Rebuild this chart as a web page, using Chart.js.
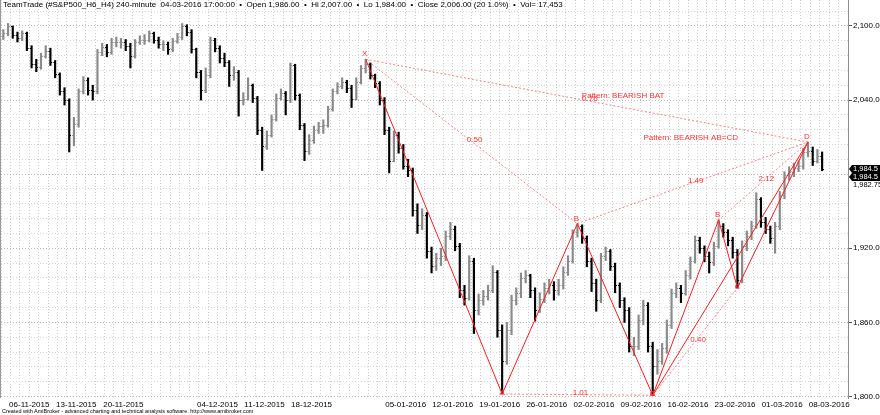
<!DOCTYPE html>
<html>
<head>
<meta charset="utf-8">
<script src="https://cdn.jsdelivr.net/npm/chart.js@4.4.1/dist/chart.umd.min.js"></script>
<style>
  body { margin: 0; background: #fff; }
  #wrap { position: relative; width: 880px; height: 415px; }
  #title { position: absolute; left: 3px; top: 0; font: 8px "Liberation Sans", Arial, sans-serif; line-height: 10px; white-space: pre; color: #000; }
  #foot { position: absolute; left: 2px; top: 408px; font: 5.5px "Liberation Sans", Arial, sans-serif; line-height: 7px; white-space: pre; color: #000; }
</style>
</head>
<body>
<div id="wrap">
  <canvas id="chart" width="880" height="415"></canvas>
  <div id="title">TeamTrade (#S&amp;P500_H6_H4) 240-minute  04-03-2016 17:00:00  •  Open 1,986.00  •  Hi 2,007.00  •  Lo 1,984.00  •  Close 2,006.00 (20 1.0%)  •  Vol= 17,453</div>
  <div id="foot">Created with AmiBroker - advanced charting and technical analysis software. http://www.amibroker.com</div>
</div>
<script>
// trading days shown on the time axis (two 4h bars drawn per day)
const novDays = [3,4,5,6,9,10,11,12,13,16,17,18,19,20,23,24,25,26,27,30];
const decDays = [1,2,3,4,7,8,9,10,11,14,15,16,17,18,21,22,23,24,28,29,30,31];
const janDays = [4,5,6,7,8,11,12,13,14,15,18,19,20,21,22,25,26,27,28,29];
const febDays = [1,2,3,4,5,8,9,10,11,12,15,16,17,18,19,22,23,24,25,26,29];
const marDays = [1,2,3,4,7,8,9];

const weekLabels = ['06-11-2015','13-11-2015','20-11-2015','04-12-2015','11-12-2015','18-12-2015',
  '05-01-2016','12-01-2016','19-01-2016','26-01-2016','02-02-2016','09-02-2016','16-02-2016',
  '23-02-2016','01-03-2016','08-03-2016'];

const priceLabels = [1800, 1860, 1920, 2040, 2100];

// OHLC bars (open of each bar = previous close)
const firstOpen = 2092;
const closes = [
  2094,2100,2093,2090,2094,2082,2069,2067,2076,2080,
  2071,2061,2047,2040,2012,2021,2047,2056,2048,2047,
  2079,2083,2079,2087,2087,2087,2084,2076,2087,2089,
  2089,2094,2089,2085,2085,2081,2088,2091,2100,2095,
  2081,2063,2048,2060,2089,2082,2074,2071,2060,2063,
  2040,2041,2052,2042,2016,2003,2012,2025,2042,2046,
  2040,2068,2044,2020,1999,2008,2016,2019,2020,2033,
  2047,2051,2055,2050,2041,2055,2066,2069,2060,2054,
  2040,2016,1991,2012,2001,1987,1983,1951,1939,1947,
  1918,1906,1912,1914,1930,1936,1922,1886,1880,1910,
  1870,1878,1881,1886,1901,1854,1829,1854,1878,1884,
  1896,1898,1886,1870,1879,1888,1890,1886,1890,1901,
  1910,1933,1938,1928,1910,1892,1878,1914,1918,1906,
  1890,1878,1870,1841,1841,1862,1874,1841,1825,1829,
  1839,1858,1884,1888,1884,1898,1910,1927,1920,1914,
  1909,1922,1938,1933,1927,1917,1894,1922,1930,1938,
  1960,1941,1936,1928,1938,1963,1979,1982,1985,1987,
  1998,1999,1991,1995,1984.5
];
const highs = [
  2097,2102,2100,2095,2096,2095,2084,2073,2078,2084,
  2082,2072,2062,2050,2041,2026,2049,2059,2058,2052,
  2081,2086,2085,2090,2091,2090,2089,2086,2089,2092,
  2093,2096,2095,2091,2088,2087,2090,2094,2102,2101,
  2097,2082,2064,2066,2091,2090,2084,2078,2072,2067,
  2064,2046,2058,2053,2043,2018,2015,2028,2045,2049,
  2047,2070,2069,2045,2021,2012,2019,2022,2024,2035,
  2049,2054,2058,2056,2052,2058,2068,2073,2070,2061,
  2055,2042,2018,2015,2014,2004,1992,1985,1956,1952,
  1949,1921,1916,1920,1934,1941,1938,1924,1890,1914,
  1912,1883,1886,1890,1906,1902,1858,1860,1882,1888,
  1900,1902,1899,1888,1884,1892,1895,1893,1895,1905,
  1914,1935,1940,1939,1930,1912,1895,1916,1921,1919,
  1908,1892,1880,1872,1848,1866,1878,1876,1844,1838,
  1843,1862,1887,1892,1890,1902,1913,1930,1929,1922,
  1917,1925,1943,1940,1935,1929,1919,1926,1934,1942,
  1965,1961,1945,1938,1941,1966,1982,1986,1989,1991,
  2001,2006,2002,2000,1998
];
const lows = [
  2089,2092,2090,2087,2088,2080,2066,2063,2065,2074,
  2068,2058,2044,2036,1998,2003,2018,2045,2044,2040,
  2045,2076,2075,2077,2083,2082,2080,2066,2074,2085,
  2085,2087,2086,2082,2080,2077,2079,2086,2089,2092,
  2078,2058,2040,2046,2058,2079,2070,2067,2051,2056,
  2027,2036,2040,2038,2012,1983,2000,2010,2023,2040,
  2028,2038,2040,2016,1991,1996,2005,2013,2013,2018,
  2031,2045,2049,2046,2034,2040,2053,2062,2057,2050,
  2036,2012,1981,1990,1997,1984,1978,1946,1932,1935,
  1912,1900,1902,1906,1910,1927,1918,1880,1874,1878,
  1851,1866,1874,1878,1884,1848,1802,1826,1850,1874,
  1880,1892,1880,1861,1868,1876,1883,1878,1882,1887,
  1898,1908,1929,1924,1905,1885,1869,1876,1910,1902,
  1884,1872,1860,1836,1833,1838,1858,1836,1801,1818,
  1826,1835,1855,1880,1876,1882,1895,1908,1916,1909,
  1900,1906,1920,1929,1922,1912,1888,1892,1918,1927,
  1936,1937,1932,1924,1916,1935,1960,1975,1978,1982,
  1984,1994,1987,1989,1982.75
];

// harmonic pattern pivots (bar index + price)
const batNames = ['X','A','B','C','D'];
const batBars = [77, 106, 122, 138, 171];
const batPrices = [2073, 1802, 1940, 1801, 2006];
const batRatios = [['X','B','0.50'], ['A','C','1.01'], ['B','D','1.49'], ['X','D','0.76']];

const abcdNames = ['A','B','C','D'];
const abcdBars = [138, 152, 156, 171];
const abcdPrices = [1801, 1943, 1888, 2006];
const abcdRatios = [['A','C','0.40'], ['B','D','2.12']];

const upColor = '#8a8a8a';
const downColor = '#000000';
const red = '#ff1a1a';
const pink = 'rgba(255,60,60,0.65)';
const FONT = '"Liberation Sans", Arial, sans-serif';

const monthDays = (list, suffix) => list.map(d => String(d).padStart(2, '0') + '-' + suffix);
const days = [
  ...monthDays(novDays, '11-2015'), ...monthDays(decDays, '12-2015'),
  ...monthDays(janDays, '01-2016'), ...monthDays(febDays, '02-2016'), ...monthDays(marDays, '03-2016')
];
const opens = closes.map((c, i) => i ? closes[i - 1] : firstOpen);

const pivot = (names, bars, prices, n) => {
  const k = names.indexOf(n);
  return { x: bars[k], y: prices[k] };
};
const solidPath = (names, bars, prices) => names.map((n) => pivot(names, bars, prices, n));

const lineSet = (data, color, dash) => ({
  type: 'line', data, borderColor: color, borderWidth: 1, borderDash: dash,
  pointRadius: 0, fill: false, tension: 0, order: 0
});

const datasets = [{
  type: 'bar',
  data: closes.map((c, i) => ({ x: i, y: [lows[i], highs[i]] })),
  backgroundColor: closes.map((c, i) => c < opens[i] ? downColor : upColor),
  barThickness: 1.5,
  order: 1
}];
batRatios.forEach(r => datasets.push(lineSet([pivot(batNames, batBars, batPrices, r[0]), pivot(batNames, batBars, batPrices, r[1])], pink, [2, 2])));
abcdRatios.forEach(r => datasets.push(lineSet([pivot(abcdNames, abcdBars, abcdPrices, r[0]), pivot(abcdNames, abcdBars, abcdPrices, r[1])], pink, [2, 2])));
datasets.push(lineSet(solidPath(batNames, batBars, batPrices), red, []));
datasets.push(lineSet(solidPath(abcdNames, abcdBars, abcdPrices), red, []));

// open / close ticks of the OHLC bars
const ohlcTicks = {
  id: 'ohlcTicks',
  afterDatasetDraw(chart, args) {
    if (args.index !== 0) return;
    const { ctx } = chart;
    const y = chart.scales.y;
    ctx.save();
    ctx.lineWidth = 1;
    args.meta.data.forEach((bar, i) => {
      ctx.strokeStyle = closes[i] < opens[i] ? downColor : upColor;
      const yo = Math.round(y.getPixelForValue(opens[i])) + 0.5;
      const yc = Math.round(y.getPixelForValue(closes[i])) + 0.5;
      ctx.beginPath();
      ctx.moveTo(bar.x - 1.8, yo); ctx.lineTo(bar.x, yo);
      ctx.moveTo(bar.x, yc); ctx.lineTo(bar.x + 1.8, yc);
      ctx.stroke();
    });
    ctx.restore();
  }
};

// pivot letters, ratios, pattern names, last price boxes
const annotations = {
  id: 'annotations',
  afterDraw(chart) {
    const { ctx, chartArea } = chart;
    const xs = chart.scales.x, ys = chart.scales.y;
    const px = p => ({ x: xs.getPixelForValue(p.x), y: ys.getPixelForValue(p.y) });
    ctx.save();
    // left frame line
    ctx.strokeStyle = '#9a9a9a';
    ctx.lineWidth = 1;
    ctx.beginPath();
    ctx.moveTo(chartArea.left - 0.5, 0); ctx.lineTo(chartArea.left - 0.5, chartArea.bottom);
    ctx.stroke();

    ctx.font = '8px ' + FONT;
    ctx.fillStyle = '#ff3030';
    ctx.textAlign = 'center';
    const drawn = [];
    const letters = (names, bars, prices) => names.forEach((n, k) => {
      const key = n + bars[k];
      if (drawn.includes(key)) return;
      drawn.push(key);
      const p = px({ x: bars[k], y: prices[k] });
      const high = k === names.length - 1 ? true : prices[k] > prices[k + 1];
      if (high) { ctx.textBaseline = 'bottom'; ctx.fillText(n, p.x - 1, p.y - 1); }
      else { ctx.textBaseline = 'middle'; ctx.fillText(n, p.x, p.y - 1); }
    });
    letters(batNames, batBars, batPrices);
    letters(abcdNames, abcdBars, abcdPrices);

    ctx.textBaseline = 'middle';
    const ratioText = (names, bars, prices, list) => list.forEach(r => {
      const a = px(pivot(names, bars, prices, r[0])), b = px(pivot(names, bars, prices, r[1]));
      ctx.fillText(r[2], (a.x + b.x) / 2 + 3, (a.y + b.y) / 2 - 2);
    });
    ratioText(batNames, batBars, batPrices, batRatios);
    ratioText(abcdNames, abcdBars, abcdPrices, abcdRatios);

    const X = px(pivot(batNames, batBars, batPrices, 'X'));
    const D = px(pivot(batNames, batBars, batPrices, 'D'));
    ctx.textAlign = 'left';
    ctx.fillText('Pattern: BEARISH BAT', (X.x + D.x) / 2 - 5, (X.y + D.y) / 2 - 5);
    ctx.textAlign = 'right';
    ctx.fillText('Pattern: BEARISH AB=CD', D.x - 70, D.y - 4);

    // last price tags on the price axis
    const last = closes[closes.length - 1];
    const yl = Math.round(ys.getPixelForValue(last));
    const lbl = last.toLocaleString('en-US', { minimumFractionDigits: 1 });
    ctx.fillStyle = '#000';
    [yl, yl + 8].forEach(yy => {
      ctx.beginPath();
      ctx.moveTo(chartArea.right + 1, yy);
      ctx.lineTo(chartArea.right + 4, yy - 4);
      ctx.lineTo(880, yy - 4);
      ctx.lineTo(880, yy + 4);
      ctx.lineTo(chartArea.right + 4, yy + 4);
      ctx.closePath();
      ctx.fill();
    });
    ctx.font = '7.5px ' + FONT;
    ctx.fillStyle = '#fff';
    ctx.textAlign = 'left';
    ctx.fillText(lbl, chartArea.right + 5, yl);
    ctx.fillText(lbl, chartArea.right + 5, yl + 8);
    ctx.fillStyle = '#000';
    ctx.fillText(lows[lows.length - 1].toLocaleString('en-US', { minimumFractionDigits: 2 }), chartArea.right + 5, yl + 16);
    ctx.restore();
  }
};

new Chart(document.getElementById('chart'), {
  type: 'bar',
  data: { datasets },
  plugins: [ohlcTicks, annotations],
  options: {
    responsive: false,
    animation: false,
    devicePixelRatio: 1,
    layout: { padding: { left: 1, right: 0, top: 0, bottom: 0 } },
    plugins: { legend: { display: false }, tooltip: { enabled: false } },
    scales: {
      x: {
        type: 'linear',
        min: -0.5,
        max: 179.5,
        offset: false,
        grid: { offset: false, drawTicks: false, color: '#cfcfcf' },
        border: { display: false, dash: [1, 2] },
        afterBuildTicks: axis => { axis.ticks = days.map((d, k) => ({ value: 2 * k - 0.5 })); },
        afterFit: axis => { axis.height = 17; axis.paddingLeft = 0; axis.paddingRight = 0; },
        ticks: {
          autoSkip: false, maxRotation: 0, padding: 2, color: '#000',
          font: { size: 8, family: FONT },
          callback: v => { const d = days[(v + 0.5) / 2]; return weekLabels.includes(d) ? d : ''; }
        }
      },
      y: {
        position: 'right',
        min: 1798.8,
        max: 2121,
        beginAtZero: false,
        grid: {
          color: c => c.tick && c.tick.value % 60 === 0 ? '#b8b8b8' : '#d6d6d6',
          tickLength: 4,
          tickColor: c => c.tick && priceLabels.includes(c.tick.value) ? '#555' : 'rgba(0,0,0,0)'
        },
        border: { display: true, color: '#8c8c8c', dash: [1, 2] },
        afterBuildTicks: axis => {
          const t = [];
          for (let v = 1800; v <= 2112; v += 12) t.push({ value: v });
          axis.ticks = t;
        },
        afterFit: axis => { axis.width = 32; axis.paddingTop = 0; axis.paddingBottom = 0; },
        ticks: {
          padding: 1, color: '#000',
          font: { size: 8, family: FONT },
          callback: v => priceLabels.includes(v) ? v.toLocaleString('en-US', { minimumFractionDigits: 1 }) : ''
        }
      }
    }
  }
});
</script>
</body>
</html>
